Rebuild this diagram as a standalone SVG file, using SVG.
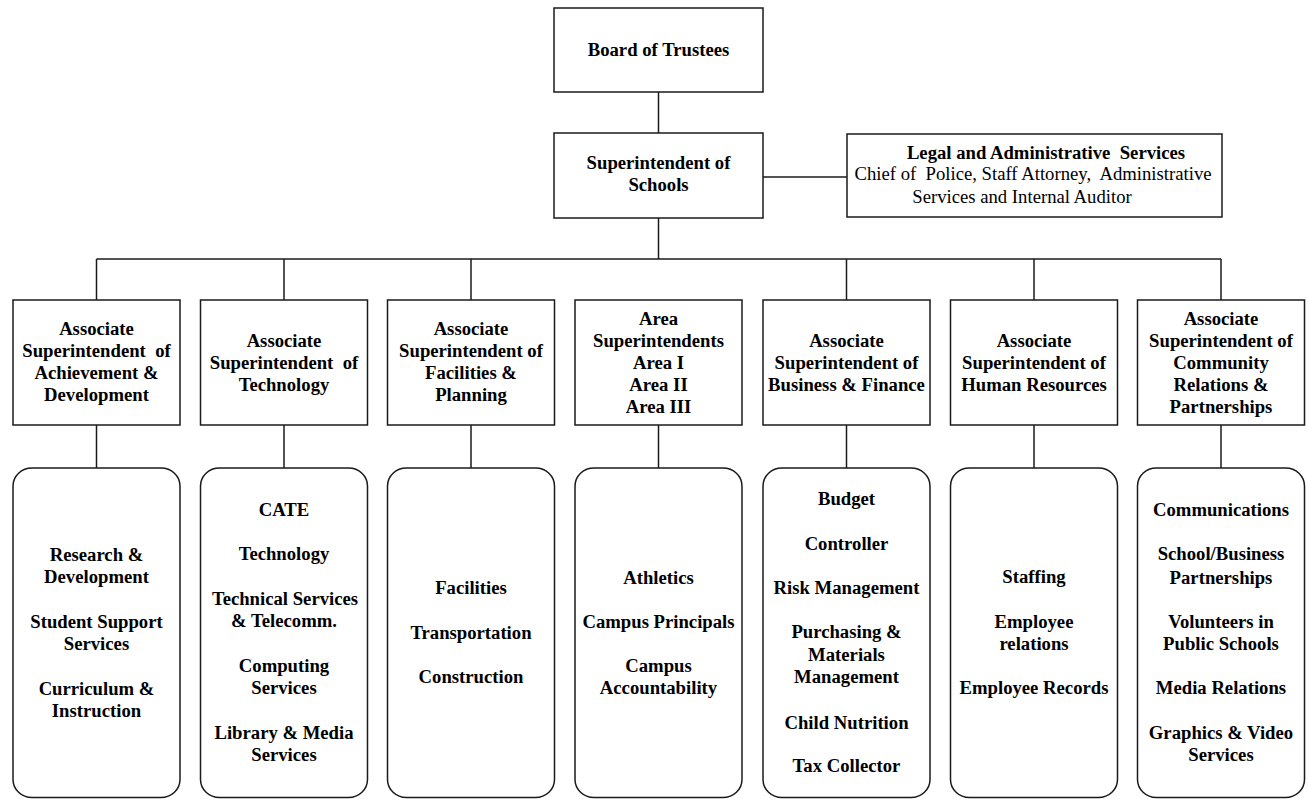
<svg xmlns="http://www.w3.org/2000/svg" width="1308" height="799" viewBox="0 0 1308 799">
<style>
rect{fill:#fff;stroke:#1a1a1a;stroke-width:1.5}
.c line{stroke:#1a1a1a;stroke-width:1.5}
text{font-family:"Liberation Serif","Times New Roman",serif;font-size:18.7px;fill:#000;text-anchor:middle}
.b{font-weight:bold}
</style>
<rect x="0" y="0" width="1308" height="799" style="stroke:none"/>
<g class="c" id="connectors">
<line x1="658.5" y1="92" x2="658.5" y2="133"/>
<line x1="763" y1="177" x2="847" y2="177"/>
<line x1="658.5" y1="218" x2="658.5" y2="259"/>
<line x1="96.5" y1="259" x2="1221" y2="259"/>
<line x1="96.5" y1="259" x2="96.5" y2="300"/>
<line x1="284" y1="259" x2="284" y2="300"/>
<line x1="471" y1="259" x2="471" y2="300"/>
<line x1="846.5" y1="259" x2="846.5" y2="300"/>
<line x1="1034" y1="259" x2="1034" y2="300"/>
<line x1="1221" y1="259" x2="1221" y2="300"/>
<line x1="96.5" y1="425" x2="96.5" y2="468"/>
<line x1="284" y1="425" x2="284" y2="468"/>
<line x1="471" y1="425" x2="471" y2="468"/>
<line x1="658.5" y1="425" x2="658.5" y2="468"/>
<line x1="846.5" y1="425" x2="846.5" y2="468"/>
<line x1="1034" y1="425" x2="1034" y2="468"/>
<line x1="1221" y1="425" x2="1221" y2="468"/>
</g>
<g id="board"><rect x="554" y="8" width="209" height="84"/><text class="b" x="658.5" y="56">Board of Trustees</text></g>
<g id="superintendent"><rect x="554" y="133" width="209" height="85"/><text class="b" x="658.5" y="169">Superintendent of</text><text class="b" x="658.5" y="191">Schools</text></g>
<g id="legal"><rect x="847" y="134" width="375" height="83"/><text class="b" x="1046" y="159" xml:space="preserve">Legal and Administrative  Services</text><text x="1033" y="180" xml:space="preserve">Chief of  Police, Staff Attorney,  Administrative</text><text x="1022" y="203">Services and Internal Auditor</text></g>

<g id="assoc1"><rect x="13" y="300" width="167" height="125"/><text class="b" x="96.5" y="335">Associate</text><text class="b" x="96.5" y="357" xml:space="preserve">Superintendent  of</text><text class="b" x="96.5" y="379">Achievement &amp;</text><text class="b" x="96.5" y="401">Development</text></g>
<g id="assoc2"><rect x="200.5" y="300" width="167" height="125"/><text class="b" x="284" y="347">Associate</text><text class="b" x="284" y="369" xml:space="preserve">Superintendent  of</text><text class="b" x="284" y="391">Technology</text></g>
<g id="assoc3"><rect x="387.5" y="300" width="167" height="125"/><text class="b" x="471" y="335">Associate</text><text class="b" x="471" y="357">Superintendent of</text><text class="b" x="471" y="379">Facilities &amp;</text><text class="b" x="471" y="401">Planning</text></g>
<g id="area"><rect x="575" y="300" width="167" height="125"/><text class="b" x="658.5" y="325">Area</text><text class="b" x="658.5" y="347">Superintendents</text><text class="b" x="658.5" y="369">Area I</text><text class="b" x="658.5" y="391">Area II</text><text class="b" x="658.5" y="413">Area III</text></g>
<g id="assoc5"><rect x="763" y="300" width="167" height="125"/><text class="b" x="846.5" y="347">Associate</text><text class="b" x="846.5" y="369">Superintendent of</text><text class="b" x="846.5" y="391">Business &amp; Finance</text></g>
<g id="assoc6"><rect x="950.5" y="300" width="167" height="125"/><text class="b" x="1034" y="347">Associate</text><text class="b" x="1034" y="369">Superintendent of</text><text class="b" x="1034" y="391">Human Resources</text></g>
<g id="assoc7"><rect x="1137.5" y="300" width="167" height="125"/><text class="b" x="1221" y="325">Associate</text><text class="b" x="1221" y="347">Superintendent of</text><text class="b" x="1221" y="369">Community</text><text class="b" x="1221" y="391">Relations &amp;</text><text class="b" x="1221" y="413">Partnerships</text></g>

<g id="dept1"><rect x="13" y="468" width="167" height="329.5" rx="19" ry="18"/><text class="b" x="96.5" y="561">Research &amp;</text><text class="b" x="96.5" y="583">Development</text><text class="b" x="96.5" y="628">Student Support</text><text class="b" x="96.5" y="650">Services</text><text class="b" x="96.5" y="695">Curriculum &amp;</text><text class="b" x="96.5" y="717">Instruction</text></g>
<g id="dept2"><rect x="200.5" y="468" width="167" height="329.5" rx="19" ry="18"/><text class="b" x="284" y="516">CATE</text><text class="b" x="284" y="560">Technology</text><text class="b" x="285" y="605">Technical Services</text><text class="b" x="284" y="627">&amp; Telecomm.</text><text class="b" x="284" y="672">Computing</text><text class="b" x="284" y="694">Services</text><text class="b" x="284" y="739">Library &amp; Media</text><text class="b" x="284" y="761">Services</text></g>
<g id="dept3"><rect x="387.5" y="468" width="167" height="329.5" rx="19" ry="18"/><text class="b" x="471" y="594">Facilities</text><text class="b" x="471" y="639">Transportation</text><text class="b" x="471" y="683">Construction</text></g>
<g id="dept4"><rect x="575" y="468" width="167" height="329.5" rx="19" ry="18"/><text class="b" x="658.5" y="584">Athletics</text><text class="b" x="658.5" y="628">Campus Principals</text><text class="b" x="658.5" y="672">Campus</text><text class="b" x="658.5" y="694">Accountability</text></g>
<g id="dept5"><rect x="763" y="468" width="167" height="329.5" rx="19" ry="18"/><text class="b" x="846.5" y="505">Budget</text><text class="b" x="846.5" y="550">Controller</text><text class="b" x="846.5" y="594">Risk Management</text><text class="b" x="846.5" y="638">Purchasing &amp;</text><text class="b" x="846.5" y="661">Materials</text><text class="b" x="846.5" y="683">Management</text><text class="b" x="846.5" y="729">Child Nutrition</text><text class="b" x="846.5" y="772">Tax Collector</text></g>
<g id="dept6"><rect x="950.5" y="468" width="167" height="329.5" rx="19" ry="18"/><text class="b" x="1034" y="583">Staffing</text><text class="b" x="1034" y="628">Employee</text><text class="b" x="1034" y="650">relations</text><text class="b" x="1034" y="694">Employee Records</text></g>
<g id="dept7"><rect x="1137.5" y="468" width="167" height="329.5" rx="19" ry="18"/><text class="b" x="1221" y="516">Communications</text><text class="b" x="1221" y="560">School/Business</text><text class="b" x="1221" y="584">Partnerships</text><text class="b" x="1221" y="628">Volunteers in</text><text class="b" x="1221" y="650">Public Schools</text><text class="b" x="1221" y="694">Media Relations</text><text class="b" x="1221" y="739">Graphics &amp; Video</text><text class="b" x="1221" y="761">Services</text></g>
</svg>
